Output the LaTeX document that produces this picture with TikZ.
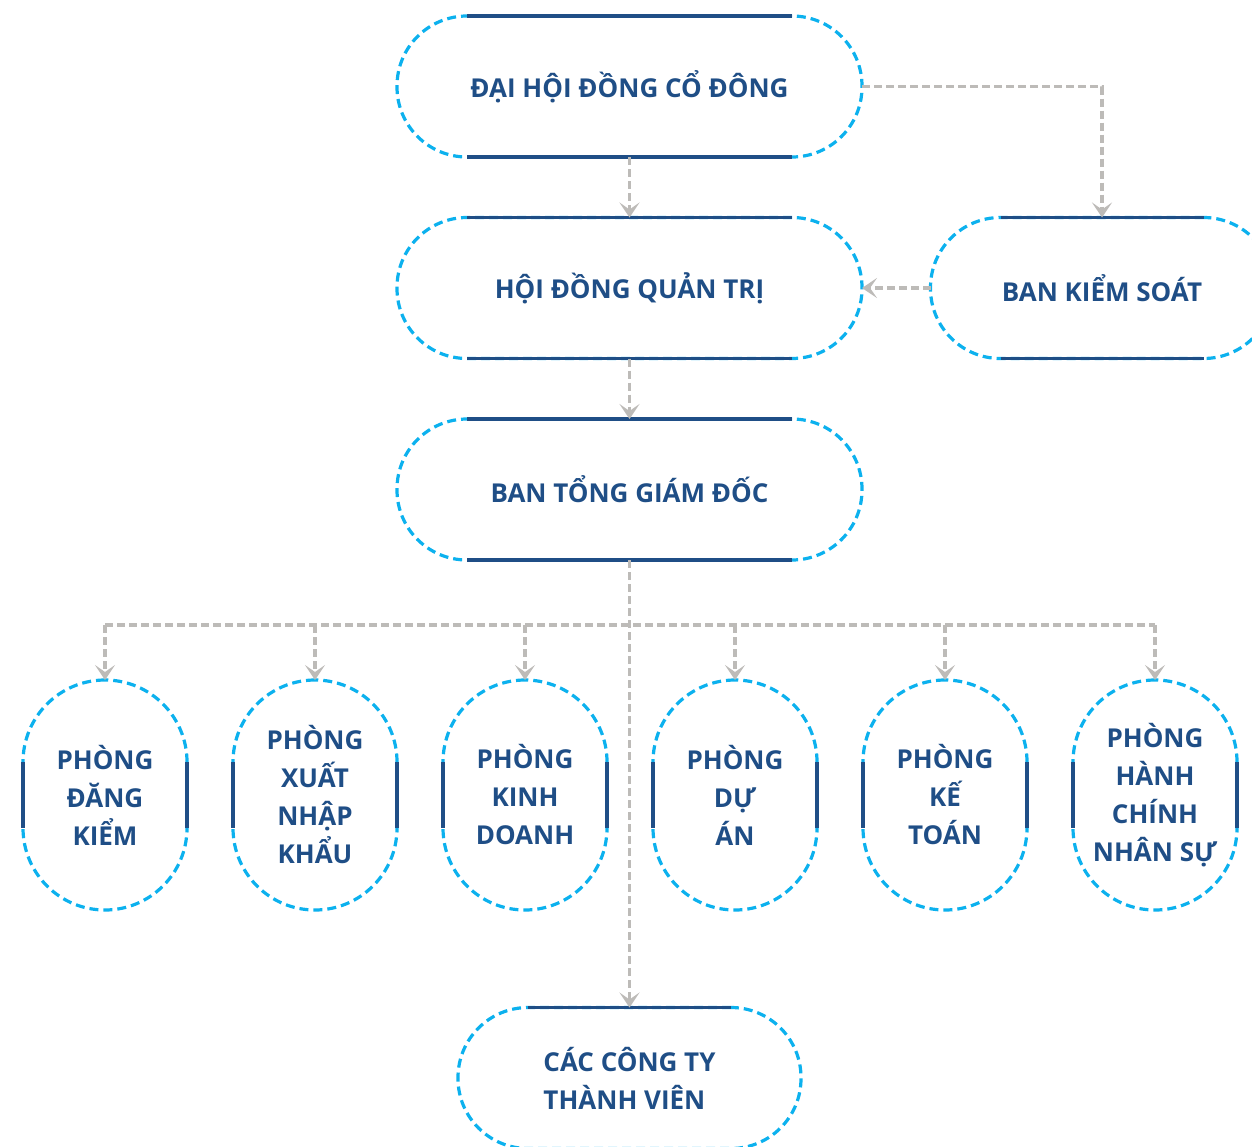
\documentclass[tikz,border=0pt]{standalone}
\usepackage{fontspec}
\setmainfont{Open Sans}
\usepackage{tikz}
\usetikzlibrary{arrows.meta, positioning}
\definecolor{navyblue}{HTML}{1F4E86}
\definecolor{skyline}{HTML}{0CB1EE}
\definecolor{linkgray}{HTML}{BDBBB8}
\tikzset{
>={Stealth[length=15pt,width=20pt,inset=7pt]}, % chevron heads on the links
every node/.style={font=\fontsize{26}{38}\selectfont\bfseries, text=navyblue},
wide/.style={draw=skyline, line width=3.2pt, dash pattern=on 9pt off 5pt, rounded corners=70pt, minimum width=465pt, minimum height=141pt, inner sep=0pt, outer sep=0pt},
short/.style={wide, minimum width=343pt},
dept/.style={draw=skyline, line width=3.2pt, dash pattern=on 9pt off 5pt, rounded corners=82pt, minimum width=164pt, minimum height=230pt, inner sep=0pt, outer sep=0pt, align=center},
link/.style={draw=linkgray, line width=3.5pt, dash pattern=on 8pt off 4pt},
bar/.style={draw=navyblue, line width=3.6pt, solid},
}
\begin{document}
\begin{tikzpicture}[x=1pt, y=-1pt, node distance=201.5pt]
\useasboundingbox (0,0) rectangle (1252,1146);
        \node[wide] (dhdcd) at (629.5,86.5) {ĐẠI HỘI ĐỒNG CỔ ĐÔNG};
        \node[wide, below of=dhdcd] (hdqt) {HỘI ĐỒNG QUẢN TRỊ};
        \node[wide, below of=hdqt] (btgd) {BAN TỔNG GIÁM ĐỐC};
        \node[short, right of=hdqt, node distance=472.5pt] (bks) {BAN KIỂM SOÁT};
        \node[short, below of=btgd, node distance=588.5pt, align=left] (cty) {CÁC CÔNG TY\\THÀNH VIÊN};
        \node[dept] (pdk) at (105,795) {PHÒNG\\ĐĂNG\\KIỂM};
        \node[dept, right of=pdk, node distance=210pt] (pxnk) {PHÒNG\\XUẤT\\NHẬP\\KHẨU};
        \node[dept, right of=pxnk, node distance=210pt] (pkd) {PHÒNG\\KINH\\DOANH};
        \node[dept, right of=pkd, node distance=210pt] (pda) {PHÒNG\\DỰ\\ÁN};
        \node[dept, right of=pda, node distance=210pt] (pkt) {PHÒNG\\KẾ\\TOÁN};
        \node[dept, right of=pkt, node distance=210pt] (phcns) {PHÒNG\\HÀNH\\CHÍNH\\NHÂN SỰ};
        \coordinate (bus) at (629.5,625);

        % solid caps on the dashed outlines
        \foreach \n in {dhdcd,hdqt,btgd,bks,cty}
            \draw[bar] ([xshift=70pt]\n.north west) -- ([xshift=-70pt]\n.north east)
                       ([xshift=70pt]\n.south west) -- ([xshift=-70pt]\n.south east);
        \foreach \n in {pdk,pxnk,pkd,pda,pkt,phcns}
            \draw[bar] ([yshift=-82pt]\n.north west) -- ([yshift=82pt]\n.south west)
                       ([yshift=-82pt]\n.north east) -- ([yshift=82pt]\n.south east);

        \draw[link, ->] (dhdcd) -- (hdqt);
        \draw[link, ->] (dhdcd) -| (bks);
        \draw[link, ->] (bks) -- (hdqt);
        \draw[link, ->] (hdqt) -- (btgd);
        \draw[link, ->] (btgd) -- (cty);
        \draw[link] (bus -| pdk) -- (bus -| phcns);
        \foreach \n in {pdk,pxnk,pkd,pda,pkt,phcns}
            \draw[link, ->] (bus -| \n) -- (\n);
\end{tikzpicture}
\end{document}
